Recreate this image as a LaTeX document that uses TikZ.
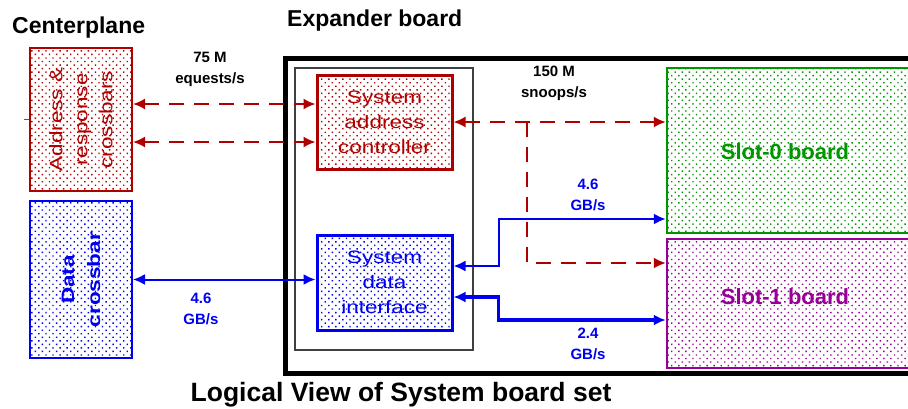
\documentclass[tikz,border=0pt]{standalone}
\usepackage{fontspec}
\setmainfont{Liberation Sans}
\newfontfamily\boxfont[FakeStretch=1.25]{Liberation Sans}
\usepackage{tikz}
\usetikzlibrary{arrows.meta,patterns.meta}
\definecolor{adrred}{RGB}{175,0,0}
\definecolor{datblue}{RGB}{0,0,240}
\definecolor{slotgreen}{RGB}{0,150,0}
\definecolor{slotpurple}{RGB}{150,0,150}

\begin{document}
\begin{tikzpicture}[
  x=1pt,y=-1pt,
  >={Latex[length=12pt,width=11pt]},
  dotted fill/.style={pattern={Dots[distance=5pt,angle=45,radius=1pt]},pattern color=#1},
  unit/.style={draw=#1,dotted fill=#1,text=#1,inner sep=0pt,align=center},
  xbar/.style={unit=#1,line width=2pt,minimum width=102pt,rotate=90,
    font=\boxfont\fontsize{18}{25}\selectfont},
  ctrl/.style={unit=#1,line width=3pt,minimum width=135pt,minimum height=95pt,
    font=\boxfont\fontsize{18}{25}\selectfont},
  slot/.style={unit=#1,line width=2.5pt,minimum width=333pt},
  slottext/.style={text=#1,font=\fontsize{22}{26}\selectfont\bfseries},
  title/.style={font=\fontsize{23}{28}\selectfont\bfseries,anchor=base west,inner sep=0pt},
  rate/.style={font=\fontsize{15}{21}\selectfont\bfseries,align=center,inner sep=0pt},
  addr/.style={draw=adrred,line width=1.8pt,dash pattern=on 15pt off 10pt},
  data/.style={draw=datblue,line width=2pt}]
  \useasboundingbox (0,0) rectangle (908,408);
  % centerplane side
  \node[title] (cp) at (12,33) {Centerplane};
  \node[xbar=adrred,minimum width=143pt,minimum height=102pt] (addrx) at (81,119.5)
    {Address \&\\response\\crossbars};
  \node[xbar=datblue,minimum width=157pt,minimum height=102pt,font=\boxfont\fontsize{18}{26}\selectfont\bfseries] (datax) at (81,279.5)
    {Data\\crossbar};
  \draw[slotgreen,line width=1.5pt] ([xshift=-5pt]addrx.north) -- (addrx.north);
  % expander board
  \node[title] (eb) at (287,26) {Expander board};
  \node[draw,line width=5pt,minimum width=714.5pt,minimum height=314.5pt] (board) at (642.75,215.75) {};
  \node[draw=black!75,line width=1.5pt,minimum width=178pt,minimum height=282pt] (inner) at (384,209) {};
  \node[ctrl=adrred,minimum height=94pt] (sac) at (384.5,122) {System\\address\\controller};
  \node[ctrl=datblue] (sdi) at (384.5,282.5) {System\\data\\interface};
  % slot boards
  \node[slot=slotgreen,minimum height=165pt] (slot0) at (833.5,150.5) {};
  \node[slot=slotpurple,minimum height=129pt] (slot1) at (833.5,303.5) {};
  \node[slottext=slotgreen] (s0txt) at (785,152) {Slot-0 board};
  \node[slottext=slotpurple] (s1txt) at (785,297) {Slot-1 board};
  % address paths
  \foreach \s in {18,-20}
    \draw[addr,<->] ([yshift=\s pt]sac.west -| addrx.south) -- ([yshift=\s pt]sac.west);
  \draw[addr,<->] (sac.east) -- (sac.east -| slot0.west);
  \coordinate (snoop) at (527,122);
  \draw[addr,->] (snoop) |- ([yshift=40.5pt]slot1.west);
  % data paths
  \draw[data,<->] (datax.south) -- (datax.south -| sdi.west);
  \draw[data,<->] ([yshift=16.5pt]sdi.east) -- ++(45,0) |- ([yshift=-68.5pt]slot0.west);
  \draw[data,line width=3.5pt,<->] ([yshift=-14.5pt]sdi.east) -- ++(45,0) |- ([yshift=-16.5pt]slot1.west);
  % rates
  \node[rate] (r75) at (210,69) {75 M\\equests/s};
  \node[rate] (r150) at (554,83) {150 M\\snoops/s};
  \node[rate,text=datblue] (rd1) at (201,309) {4.6\\GB/s};
  \node[rate,text=datblue] (rd2) at (588,195) {4.6\\GB/s};
  \node[rate,text=datblue] (rd3) at (588,344) {2.4\\GB/s};
  % caption
  \node[font=\fontsize{26.5}{30}\selectfont\bfseries,anchor=base,inner sep=0pt] (cap) at (401,401)
    {Logical View of System board set};
\end{tikzpicture}
\end{document}
